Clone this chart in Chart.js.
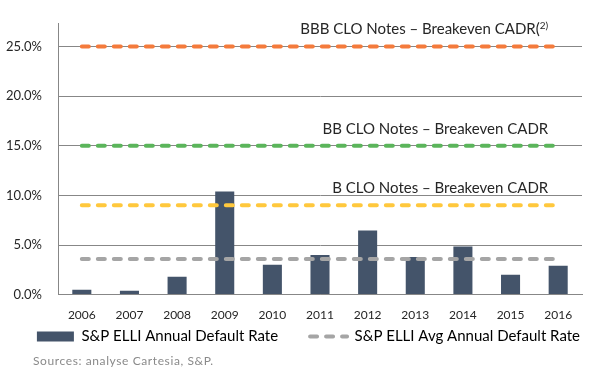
<!DOCTYPE html>
<html>
<head>
<meta charset="utf-8">
<script src="https://cdn.jsdelivr.net/npm/chart.js@4"></script>
<style>
  html, body { margin: 0; padding: 0; background: #fff; }
  #wrap { position: relative; width: 592px; height: 375px; }
  #source { position: absolute; left: 33px; top: 353px; font: 12px Lato, sans-serif; color: #8a8a8a; letter-spacing: 0.6px; }
</style>
</head>
<body>
<div id="wrap">
  <canvas id="chart" width="592" height="354"></canvas>
  <div id="source">Sources: analyse Cartesia, S&amp;P.</div>
</div>
<script>
const years = ["2006", "2007", "2008", "2009", "2010", "2011", "2012", "2013", "2014", "2015", "2016"];
const annualDefault = [0.5, 0.4, 1.8, 10.4, 3.0, 4.0, 6.45, 3.8, 4.85, 2.0, 2.9];
const avgDefault = 3.6;
const bBreakeven = 9.0;
const bbBreakeven = 15.0;
const bbbBreakeven = 25.0;
const yTicks = [0, 5, 10, 15, 20, 25];

const flat = (v) => years.map(() => v);

const lineStyle = (color) => ({
  type: "line",
  borderColor: color,
  backgroundColor: color,
  borderWidth: 4,
  borderDash: [7, 9],
  borderCapStyle: "round",
  pointRadius: 0,
  fill: false,
  order: 0,
});

// text over the breakeven lines
const lineLabels = {
  id: "lineLabels",
  afterDatasetsDraw(chart) {
    const { ctx, scales } = chart;
    const x = scales.x.getPixelForValue(years.length - 1) - 10;
    const items = [
      { v: bbbBreakeven, text: "BBB CLO Notes \u2013 Breakeven CADR(", sup: "2)" },
      { v: bbBreakeven, text: "BB CLO Notes \u2013 Breakeven CADR" },
      { v: bBreakeven, text: "B CLO Notes \u2013 Breakeven CADR" },
    ];
    ctx.save();
    ctx.fillStyle = "#262626";
    ctx.textBaseline = "middle";
    ctx.textAlign = "right";
    items.forEach((it) => {
      const y = scales.y.getPixelForValue(it.v) - 17;
      let right = x;
      if (it.sup) {
        ctx.font = "10px Lato, sans-serif";
        ctx.fillText(it.sup, right, y - 4);
        right -= ctx.measureText(it.sup).width;
      }
      ctx.font = "15px Lato, sans-serif";
      ctx.fillText(it.text, right, y);
    });
    ctx.restore();
  },
};

new Chart(document.getElementById("chart"), {
  type: "bar",
  data: {
    labels: years,
    datasets: [
      { label: "S&P ELLI Annual Default Rate", data: annualDefault, backgroundColor: "#44546A", barPercentage: 0.4, categoryPercentage: 1, order: 1 },
      { label: "S&P ELLI Avg Annual Default Rate", data: flat(avgDefault), ...lineStyle("#A5A5A5") },
      { label: "B", data: flat(bBreakeven), ...lineStyle("#FFC83D") },
      { label: "BB", data: flat(bbBreakeven), ...lineStyle("#5BB55B") },
      { label: "BBB", data: flat(bbbBreakeven), ...lineStyle("#F47B3C") },
    ],
  },
  plugins: [lineLabels],
  options: {
    responsive: false,
    animation: false,
    layout: { padding: { top: 23, right: 10, left: 0, bottom: 0 } },
    plugins: {
      tooltip: { enabled: false },
      legend: {
        position: "bottom",
        align: "end",
        labels: {
          usePointStyle: true,
          pointStyleWidth: 37,
          boxHeight: 10,
          padding: 2,
          color: "#262626",
          font: { family: "Lato, sans-serif", size: 15 },
          generateLabels: (chart) => {
            const ds = chart.data.datasets;
            return [
              { text: ds[0].label + "\u2003\u2003\u2002", fillStyle: ds[0].backgroundColor, strokeStyle: ds[0].backgroundColor, lineWidth: 0, pointStyle: "rect", datasetIndex: 0 },
              { text: ds[1].label, fillStyle: ds[1].borderColor, strokeStyle: ds[1].borderColor, lineWidth: 4, lineDash: [7, 9], lineCap: "round", pointStyle: "line", datasetIndex: 1 },
            ];
          },
        },
      },
    },
    scales: {
      x: {
        grid: { display: false },
        border: { color: "#878787" },
        ticks: { color: "#262626", padding: 5, font: { family: "Lato, sans-serif", size: 12 } },
      },
      y: {
        min: 0,
        max: 27.3,
        afterBuildTicks: (s) => { s.ticks = yTicks.map((v) => ({ value: v })); },
        afterFit: (s) => { s.width = 58; },
        grid: { color: "#878787", drawTicks: false },
        border: { color: "#878787" },
        ticks: {
          color: "#262626",
          padding: 16,
          font: { family: "Lato, sans-serif", size: 13 },
          callback: (v) => v.toFixed(1) + "%",
        },
      },
    },
  },
});
</script>
</body>
</html>
